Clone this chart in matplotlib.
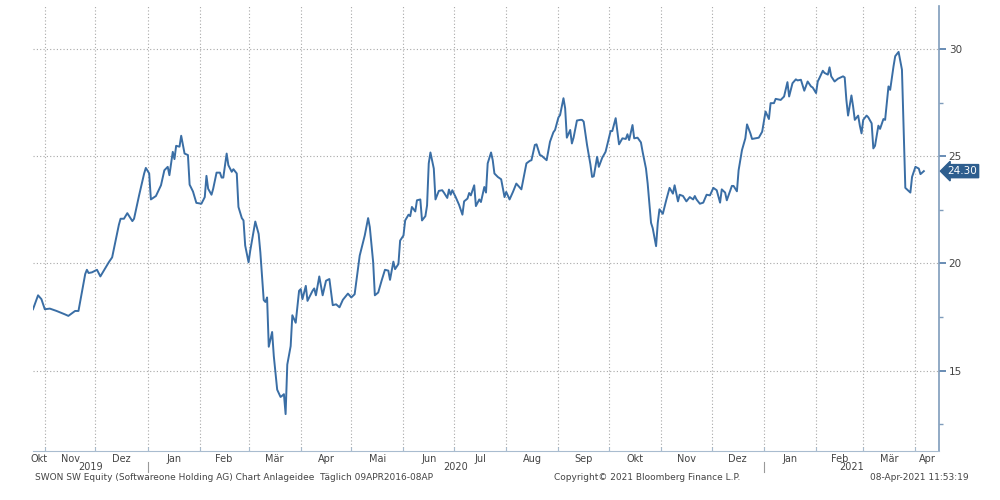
import matplotlib
matplotlib.use("Agg")
import matplotlib.pyplot as plt
import matplotlib.dates as mdates
import matplotlib.transforms as mtransforms
import pandas as pd

datum = [
    "2019-10-25", "2019-10-28", "2019-10-30", "2019-11-01", "2019-11-04", "2019-11-08",
    "2019-11-13", "2019-11-15", "2019-11-19", "2019-11-21", "2019-11-25", "2019-11-26",
    "2019-11-27", "2019-11-29", "2019-12-02", "2019-12-04", "2019-12-09", "2019-12-11",
    "2019-12-15", "2019-12-16", "2019-12-18", "2019-12-20", "2019-12-23", "2019-12-24",
    "2019-12-27", "2019-12-30", "2019-12-31", "2020-01-02", "2020-01-03", "2020-01-06",
    "2020-01-09", "2020-01-11", "2020-01-13", "2020-01-14", "2020-01-16", "2020-01-17",
    "2020-01-18", "2020-01-20", "2020-01-21", "2020-01-23", "2020-01-25", "2020-01-26",
    "2020-01-28", "2020-01-30", "2020-02-02", "2020-02-04", "2020-02-05", "2020-02-06",
    "2020-02-08", "2020-02-09", "2020-02-11", "2020-02-13", "2020-02-14", "2020-02-15",
    "2020-02-17", "2020-02-18", "2020-02-20", "2020-02-21", "2020-02-23", "2020-02-24",
    "2020-02-26", "2020-02-27", "2020-02-28", "2020-03-01", "2020-03-02", "2020-03-05",
    "2020-03-07", "2020-03-08", "2020-03-10", "2020-03-11", "2020-03-12", "2020-03-13",
    "2020-03-15", "2020-03-16", "2020-03-18", "2020-03-20", "2020-03-21", "2020-03-22",
    "2020-03-23", "2020-03-24", "2020-03-26", "2020-03-27", "2020-03-29", "2020-03-31",
    "2020-04-01", "2020-04-02", "2020-04-04", "2020-04-05", "2020-04-08", "2020-04-09",
    "2020-04-10", "2020-04-12", "2020-04-14", "2020-04-16", "2020-04-18", "2020-04-20",
    "2020-04-22", "2020-04-24", "2020-04-26", "2020-04-29", "2020-05-01", "2020-05-03",
    "2020-05-06", "2020-05-09", "2020-05-11", "2020-05-12", "2020-05-14", "2020-05-15",
    "2020-05-17", "2020-05-19", "2020-05-21", "2020-05-23", "2020-05-24", "2020-05-26",
    "2020-05-27", "2020-05-29", "2020-05-30", "2020-06-01", "2020-06-02", "2020-06-04",
    "2020-06-05", "2020-06-06", "2020-06-08", "2020-06-09", "2020-06-11", "2020-06-12",
    "2020-06-14", "2020-06-15", "2020-06-16", "2020-06-17", "2020-06-19", "2020-06-20",
    "2020-06-22", "2020-06-24", "2020-06-25", "2020-06-27", "2020-06-28", "2020-06-29",
    "2020-06-30", "2020-07-02", "2020-07-04", "2020-07-06", "2020-07-07", "2020-07-09",
    "2020-07-10", "2020-07-11", "2020-07-13", "2020-07-14", "2020-07-16", "2020-07-17",
    "2020-07-19", "2020-07-20", "2020-07-21", "2020-07-23", "2020-07-24", "2020-07-25",
    "2020-07-27", "2020-07-29", "2020-07-31", "2020-08-01", "2020-08-03", "2020-08-05",
    "2020-08-07", "2020-08-10", "2020-08-13", "2020-08-15", "2020-08-16", "2020-08-18",
    "2020-08-19", "2020-08-21", "2020-08-22", "2020-08-25", "2020-08-27", "2020-08-29",
    "2020-08-30", "2020-09-01", "2020-09-02", "2020-09-04", "2020-09-05", "2020-09-06",
    "2020-09-08", "2020-09-09", "2020-09-10", "2020-09-12", "2020-09-14", "2020-09-15",
    "2020-09-16", "2020-09-18", "2020-09-20", "2020-09-21", "2020-09-22", "2020-09-24",
    "2020-09-25", "2020-09-27", "2020-09-29", "2020-10-02", "2020-10-03", "2020-10-05",
    "2020-10-07", "2020-10-09", "2020-10-11", "2020-10-12", "2020-10-13", "2020-10-15",
    "2020-10-16", "2020-10-18", "2020-10-20", "2020-10-21", "2020-10-23", "2020-10-24",
    "2020-10-26", "2020-10-27", "2020-10-29", "2020-10-30", "2020-10-31", "2020-11-02",
    "2020-11-04", "2020-11-06", "2020-11-08", "2020-11-09", "2020-11-11", "2020-11-12",
    "2020-11-14", "2020-11-16", "2020-11-18", "2020-11-20", "2020-11-21", "2020-11-22",
    "2020-11-24", "2020-11-26", "2020-11-28", "2020-11-30", "2020-12-02", "2020-12-04",
    "2020-12-06", "2020-12-07", "2020-12-09", "2020-12-10", "2020-12-13", "2020-12-14",
    "2020-12-16", "2020-12-17", "2020-12-19", "2020-12-21", "2020-12-22", "2020-12-24",
    "2020-12-25", "2020-12-27", "2020-12-29", "2020-12-31", "2021-01-02", "2021-01-04",
    "2021-01-05", "2021-01-07", "2021-01-08", "2021-01-11", "2021-01-13", "2021-01-15",
    "2021-01-16", "2021-01-18", "2021-01-20", "2021-01-21", "2021-01-23", "2021-01-25",
    "2021-01-27", "2021-01-29", "2021-01-30", "2021-02-01", "2021-02-02", "2021-02-03",
    "2021-02-05", "2021-02-06", "2021-02-08", "2021-02-09", "2021-02-10", "2021-02-12",
    "2021-02-14", "2021-02-17", "2021-02-18", "2021-02-19", "2021-02-20", "2021-02-22",
    "2021-02-23", "2021-02-24", "2021-02-26", "2021-02-27", "2021-02-28", "2021-03-01",
    "2021-03-03", "2021-03-04", "2021-03-06", "2021-03-07", "2021-03-08", "2021-03-10",
    "2021-03-11", "2021-03-13", "2021-03-14", "2021-03-16", "2021-03-17", "2021-03-19",
    "2021-03-20", "2021-03-22", "2021-03-24", "2021-03-26", "2021-03-29", "2021-03-30",
    "2021-04-01", "2021-04-03", "2021-04-04", "2021-04-06",
]
kurs = [
    17.86, 18.51, 18.33, 17.86, 17.89, 17.78,
    17.62, 17.55, 17.78, 17.78, 19.50, 19.70,
    19.55, 19.58, 19.70, 19.39, 20.05, 20.28,
    21.80, 22.08, 22.08, 22.34, 21.97, 22.08,
    23.17, 24.19, 24.45, 24.19, 22.98, 23.14,
    23.64, 24.34, 24.50, 24.11, 25.20, 24.86,
    25.48, 25.44, 25.95, 25.12, 25.05, 23.67,
    23.35, 22.82, 22.78, 23.09, 24.08, 23.48,
    23.20, 23.48, 24.23, 24.23, 24.00, 24.00,
    25.12, 24.58, 24.27, 24.39, 24.19, 22.63,
    22.11, 22.00, 20.83, 20.05, 20.59, 21.95,
    21.37, 20.52, 18.29, 18.20, 18.41, 16.11,
    16.80, 15.67, 14.11, 13.77, 13.83, 13.90,
    12.97, 15.28, 16.14, 17.58, 17.23, 18.72,
    18.80, 18.33, 18.95, 18.25, 18.72, 18.83,
    18.51, 19.39, 18.51, 19.19, 19.27, 18.05,
    18.09, 17.95, 18.30, 18.59, 18.41, 18.56,
    20.36, 21.30, 22.11, 21.69, 20.05, 18.51,
    18.64, 19.19, 19.70, 19.66, 19.23, 20.08,
    19.73, 19.97, 21.06, 21.30, 22.00, 22.27,
    22.20, 22.63, 22.42, 22.94, 22.98, 22.00,
    22.20, 22.70, 24.66, 25.17, 24.42, 22.98,
    23.38, 23.41, 23.30, 23.05, 23.44, 23.20,
    23.41, 23.09, 22.73, 22.27, 22.89, 23.02,
    23.28, 23.17, 23.64, 22.67, 22.98, 22.86,
    23.56, 23.30, 24.66, 25.17, 24.81, 24.19,
    24.03, 23.92, 23.09, 23.33, 22.98, 23.33,
    23.72, 23.45, 24.66, 24.78, 24.81, 25.52,
    25.55, 25.05, 25.02, 24.81, 25.67, 26.11,
    26.22, 26.80, 26.92, 27.70, 27.23, 25.86,
    26.22, 25.59, 25.86, 26.66, 26.69, 26.69,
    26.61, 25.52, 24.61, 24.03, 24.06, 24.97,
    24.50, 24.92, 25.20, 26.17, 26.17, 26.77,
    25.55, 25.83, 25.80, 26.02, 25.75, 26.45,
    25.83, 25.86, 25.64, 25.20, 24.42, 23.72,
    21.89, 21.64, 20.80, 21.89, 22.52, 22.31,
    22.94, 23.52, 23.25, 23.64, 22.89, 23.20,
    23.14, 22.89, 23.09, 22.98, 23.14, 22.98,
    22.78, 22.83, 23.20, 23.17, 23.52, 23.41,
    22.83, 23.45, 23.30, 22.94, 23.61, 23.61,
    23.36, 24.34, 25.28, 25.83, 26.48, 26.06,
    25.80, 25.83, 25.86, 26.14, 27.08, 26.73,
    27.47, 27.47, 27.67, 27.62, 27.78, 28.45,
    27.78, 28.40, 28.58, 28.53, 28.56, 28.05,
    28.48, 28.25, 28.20, 27.94, 28.48, 28.64,
    28.98, 28.88, 28.80, 29.14, 28.72, 28.48,
    28.61, 28.72, 28.67, 27.62, 26.89, 27.83,
    27.31, 26.69, 26.89, 26.42, 26.06, 26.69,
    26.89, 26.81, 26.53, 25.36, 25.48, 26.42,
    26.27, 26.73, 26.69, 28.25, 28.09, 29.19,
    29.66, 29.86, 29.03, 23.52, 23.30, 24.03,
    24.50, 24.42, 24.16, 24.30,
]
monate = ["Jan", "Feb", "Mär", "Apr", "Mai", "Jun", "Jul", "Aug", "Sep", "Okt", "Nov", "Dez"]
letzter_kurs = "24.30"

linienfarbe = "#3a6ea5"
textfarbe = "#444444"

df = pd.DataFrame({"datum": pd.to_datetime(datum), "kurs": kurs})
x_von = pd.Timestamp("2019-10-25")
x_bis = pd.Timestamp("2021-04-15")

fig = plt.figure(figsize=(10, 5), dpi=100)
ax = fig.add_axes([0.033, 0.098, 0.906, 0.89])

ax.plot(df["datum"], df["kurs"], color=linienfarbe, lw=1.4)
ax.set_xlim(x_von, x_bis)
ax.set_ylim(11.25, 32.0)

# Achsen / Rahmen
for s in ["left", "top"]:
    ax.spines[s].set_visible(False)
ax.spines["bottom"].set_color("#a9bccf")
ax.spines["right"].set_color("#7f9cbb")
ax.spines["right"].set_linewidth(1.2)

ax.yaxis.tick_right()
ax.set_yticks([15, 20, 25, 30])
ax.set_yticks([12.5, 17.5, 22.5, 27.5], minor=True)
ax.tick_params(axis="y", which="major", length=5, width=1.2, color="#4f79a8",
               labelsize=7.5, labelcolor=textfarbe, pad=2)
ax.tick_params(axis="y", which="minor", length=3, width=1, color="#7f9cbb")

# Monatsanfaenge als Gitter, Monatsnamen mittig im sichtbaren Teil
anfaenge = pd.date_range("2019-11-01", "2021-04-01", freq="MS")
ax.set_xticks(anfaenge)
ax.set_xticklabels([])
mitten, namen = [], []
for start in pd.date_range("2019-10-01", "2021-04-01", freq="MS"):
    ende = start + pd.offsets.MonthBegin(1)
    a, b = max(start, x_von), min(ende, x_bis)
    mitten.append(a + (b - a) / 2)
    namen.append(monate[start.month - 1])
ax.set_xticks(mitten, minor=True)
ax.set_xticklabels(namen, minor=True)
ax.tick_params(axis="x", which="major", length=3, direction="in", color="#a9bccf")
ax.tick_params(axis="x", which="minor", length=0, labelsize=7, labelcolor=textfarbe, pad=2)

ax.grid(True, which="major", axis="both", linestyle=(0, (1, 2)), color="#a8a8a8", lw=0.8)

# Jahre unter den Monaten
trans = mtransforms.blended_transform_factory(ax.transData, ax.transAxes)
grenzen = [x_von, pd.Timestamp("2020-01-01"), pd.Timestamp("2021-01-01"), x_bis]
for i, jahr in enumerate(["2019", "2020", "2021"]):
    a, b = grenzen[i], grenzen[i + 1]
    ax.text(a + (b - a) / 2, -0.037, jahr, transform=trans, ha="center", va="center",
            fontsize=7, color=textfarbe)
for g in grenzen[1:3]:
    ax.plot([g, g], [-0.024, -0.048], transform=trans, color="#999999", lw=0.8, clip_on=False)

# Letzter Kurs rechts an der Achse
ax.annotate(letzter_kurs, xy=(1.0, df["kurs"].iloc[-1]), xycoords=("axes fraction", "data"),
            xytext=(6, 0), textcoords="offset points", ha="left", va="center",
            fontsize=7.5, color="white",
            bbox=dict(boxstyle="larrow,pad=0.15", fc="#2e5e8e", ec="#2e5e8e"))

# Fusszeile
fig.text(0.035, 0.046, "SWON SW Equity (Softwareone Holding AG) Chart Anlageidee  Täglich 09APR2016-08AP",
         fontsize=6.5, color=textfarbe, va="center")
fig.text(0.554, 0.046, "Copyright© 2021 Bloomberg Finance L.P.", fontsize=6.5, color=textfarbe, va="center")
fig.text(0.969, 0.046, "08-Apr-2021 11:53:19", fontsize=6.5, color=textfarbe, va="center", ha="right")

plt.savefig("out.png", dpi=100)
